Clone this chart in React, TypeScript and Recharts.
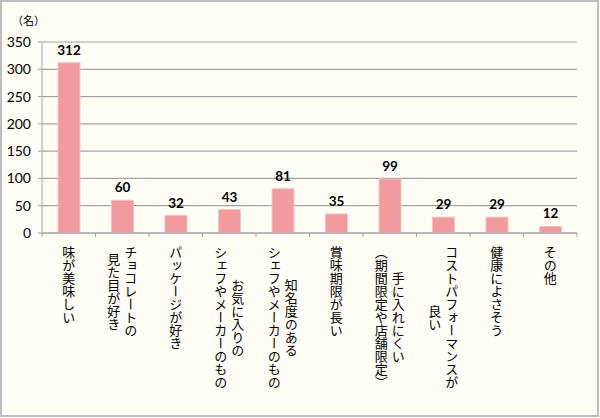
import { BarChart, Bar, XAxis, YAxis, CartesianGrid, LabelList } from "recharts";

const categories = [
  "味が美味しい",
  "チョコレートの\n見た目が好き",
  "パッケージが好き",
  "お気に入りの\nシェフやメーカーのもの",
  "知名度のある\nシェフやメーカーのもの",
  "賞味期限が長い",
  "手に入れにくい\n（期間限定や店舗限定）",
  "コストパフォーマンスが\n良い",
  "健康によさそう",
  "その他",
];
const counts = [312, 60, 32, 43, 81, 35, 99, 29, 29, 12];
const yTicks = [0, 50, 100, 150, 200, 250, 300, 350];
const unitLabel = "（名）";

const data = categories.map((name, i) => ({ name, value: counts[i] }));

const JP = "'Noto Sans CJK JP', sans-serif";
const NUM = "Lato, 'Noto Sans CJK JP', sans-serif";
const GRID = "#a3a3a3";

function CategoryTick(props: any) {
  const { x, y, payload, index } = props;
  const lines = String(payload.value).split("\n");
  const half = payload.offset || 26.7;
  const fs = 13;
  const longest = Math.max(...lines.map((l) => l.length));
  const midY = y + 13 + (longest * fs) / 2;
  const gap = 17;
  const n = lines.length;
  return (
    <g>
      <line x1={x - half} x2={x - half} y1={y} y2={y + 4} stroke={GRID} />
      {index === categories.length - 1 && (
        <line x1={x + half} x2={x + half} y1={y} y2={y + 4} stroke={GRID} />
      )}
      {lines.map((line, i) => (
        <text
          key={i}
          x={x + ((n - 1) / 2 - i) * gap}
          y={midY}
          textAnchor="middle"
          fontSize={fs}
          fill="#000"
          fontFamily={JP}
          style={{ writingMode: "vertical-rl" }}
        >
          {line}
        </text>
      ))}
    </g>
  );
}

export default function App() {
  return (
    <div
      style={{
        position: "absolute",
        left: 0,
        top: 0,
        width: 600,
        height: 418,
        background: "#fffdf5",
      }}
    >
      <div
        style={{
          position: "absolute",
          left: 0,
          top: 0,
          width: 599,
          height: 417,
          boxSizing: "border-box",
          border: "2px solid #bdbdbd",
          pointerEvents: "none",
        }}
      />
      <div
        style={{
          position: "absolute",
          left: 12,
          top: 12,
          fontSize: 11,
          lineHeight: "16px",
          fontFamily: JP,
          color: "#000",
        }}
      >
        {unitLabel}
      </div>
      <BarChart
        width={600}
        height={418}
        data={data}
        margin={{ top: 42, right: 23, bottom: 0, left: 0 }}
      >
        <CartesianGrid vertical={false} stroke={GRID} strokeWidth={1.2} />
        <XAxis
          dataKey="name"
          height={185}
          interval={0}
          tickLine={false}
          tickSize={0}
          tickMargin={0}
          axisLine={{ stroke: GRID }}
          tick={<CategoryTick />}
        />
        <YAxis
          width={42}
          domain={[0, 350]}
          ticks={yTicks}
          interval={0}
          tickSize={4}
          tickMargin={7}
          axisLine={{ stroke: GRID }}
          tickLine={{ stroke: GRID }}
          tick={{ fontSize: 14, fill: "#000", fontFamily: NUM }}
        />
        <Bar
          dataKey="value"
          fill="#f29b9e"
          stroke="#f7c2c4"
          strokeWidth={1}
          barSize={22}
          isAnimationActive={false}
        >
          <LabelList
            dataKey="value"
            position="top"
            offset={8}
            fontSize={13.5}
            fontWeight="bold"
            fill="#000"
            fontFamily={NUM}
          />
        </Bar>
      </BarChart>
    </div>
  );
}
